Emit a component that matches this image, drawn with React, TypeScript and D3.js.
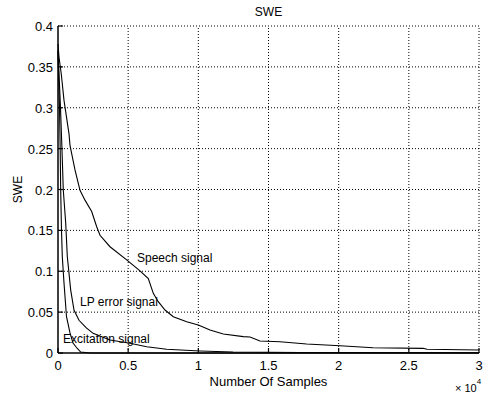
import React from "react";
import * as d3 from "d3";

const title = "SWE";
const xLabel = "Number Of Samples";
const yLabel = "SWE";
const xTicks = [0, 5000, 10000, 15000, 20000, 25000, 30000];
const xTickLabels = ["0", "0.5", "1", "1.5", "2", "2.5", "3"];
const yTicks = [0, 0.05, 0.1, 0.15, 0.2, 0.25, 0.3, 0.35, 0.4];
const yTickLabels = ["0", "0.05", "0.1", "0.15", "0.2", "0.25", "0.3", "0.35", "0.4"];

const speech: [number, number][] = [
  [0, 0.378], [71, 0.362], [235, 0.341], [428, 0.309], [784, 0.268], [855, 0.254],
  [1211, 0.224], [1568, 0.199], [1924, 0.187], [2400, 0.173], [2757, 0.1545],
  [2993, 0.144], [3705, 0.13], [4895, 0.114], [5843, 0.1005], [6435, 0.091],
  [6791, 0.073], [7147, 0.0628], [7625, 0.0526], [8216, 0.0444], [9171, 0.0383],
  [9998, 0.0343], [10831, 0.0281], [11779, 0.0232], [13204, 0.02], [13682, 0.0195],
  [14394, 0.0147], [15820, 0.0138], [17722, 0.011], [20095, 0.0089], [22447, 0.0065],
  [26010, 0.0057], [26295, 0.0045], [30000, 0.0037],
];
const lpError: [number, number][] = [
  [0, 0.37], [178, 0.3], [285, 0.248], [378, 0.199], [549, 0.159], [663, 0.118],
  [905, 0.077], [1140, 0.0526], [1496, 0.04], [2000, 0.031], [2500, 0.024],
  [3705, 0.0159], [5131, 0.0119], [6321, 0.0077], [7746, 0.0045], [10119, 0.0024],
  [12470, 0.0012], [17245, 0.0006], [30000, 0.0003],
];
const excitation: [number, number][] = [
  [0, 0.37], [107, 0.3], [157, 0.248], [192, 0.199], [249, 0.15], [306, 0.118],
  [428, 0.0856], [606, 0.0444], [855, 0.0245], [1069, 0.0122], [1375, 0.0055],
  [1617, 0.0012], [2280, 0], [30000, 0],
];
const labels: { text: string; x: number; y: number }[] = [
  { text: "Speech signal", x: 5630, y: 0.111 },
  { text: "LP error signal", x: 1568, y: 0.0575 },
  { text: "Excitation signal", x: 356, y: 0.0122 },
];

const W = 483;
const H = 396;
const M = { left: 58, right: 4, top: 26, bottom: 43 };
const font = "'Liberation Sans', Arial, Helvetica, sans-serif";

export default function App() {
  const x = d3.scaleLinear().domain([0, 30000]).range([M.left, W - M.right]);
  const y = d3.scaleLinear().domain([0, 0.4]).range([H - M.bottom, M.top]);
  const line = d3
    .line<[number, number]>()
    .x((d) => x(d[0]))
    .y((d) => y(d[1]));
  const x0 = x(0), x1 = x(30000), y0 = y(0), y1 = y(0.4);
  return (
    <svg
      width={W}
      height={H}
      style={{ position: "absolute", left: 0, top: 0, background: "#fff" }}
      fontFamily={font}
    >
      <rect x={0} y={0} width={W} height={H} fill="#fff" />
      {xTicks.slice(1).map((t) => (
        <line key={"gx" + t} x1={x(t)} x2={x(t)} y1={y0} y2={y1} stroke="#000" strokeWidth={1} strokeDasharray="1,2" />
      ))}
      {yTicks.slice(1).map((t) => (
        <line key={"gy" + t} x1={x0} x2={x1} y1={y(t)} y2={y(t)} stroke="#000" strokeWidth={1} strokeDasharray="1,2" />
      ))}
      {xTicks.map((t) => (
        <line key={"tx" + t} x1={x(t)} x2={x(t)} y1={y0} y2={y0 - 5} stroke="#000" strokeWidth={1.2} />
      ))}
      {yTicks.map((t) => (
        <line key={"ty" + t} x1={x0} x2={x0 + 5} y1={y(t)} y2={y(t)} stroke="#000" strokeWidth={1.2} />
      ))}
      {[speech, lpError, excitation].map((s, i) => (
        <path key={"s" + i} d={line(s) || ""} fill="none" stroke="#000" strokeWidth={1.1} />
      ))}
      <line x1={x0} x2={x0} y1={y0} y2={y1} stroke="#000" strokeWidth={1.5} />
      <line x1={x0} x2={x1} y1={y0} y2={y0} stroke="#000" strokeWidth={1.5} />
      {xTicks.map((t, i) => (
        <text key={"lx" + t} x={x(t)} y={y0 + 17} fontSize={13} textAnchor="middle" fill="#000">
          {xTickLabels[i]}
        </text>
      ))}
      {yTicks.map((t, i) => (
        <text key={"ly" + t} x={x0 - 5} y={y(t) + 5} fontSize={13} textAnchor="end" fill="#000">
          {yTickLabels[i]}
        </text>
      ))}
      {labels.map((l) => (
        <text key={l.text} x={x(l.x)} y={y(l.y)} fontSize={12} fill="#000">
          {l.text}
        </text>
      ))}
      <text x={(x0 + x1) / 2} y={16} fontSize={12} textAnchor="middle" fill="#000">
        {title}
      </text>
      <text x={(x0 + x1) / 2} y={386} fontSize={13} textAnchor="middle" fill="#000">
        {xLabel}
      </text>
      <text
        transform={`translate(22, ${(y0 + y1) / 2}) rotate(-90)`}
        fontSize={12}
        textAnchor="middle"
        fill="#000"
      >
        {yLabel}
      </text>
      <text x={455} y={392} fontSize={11} fill="#000">
        × 10
        <tspan dy={-8} fontSize={8}>4</tspan>
      </text>
    </svg>
  );
}
